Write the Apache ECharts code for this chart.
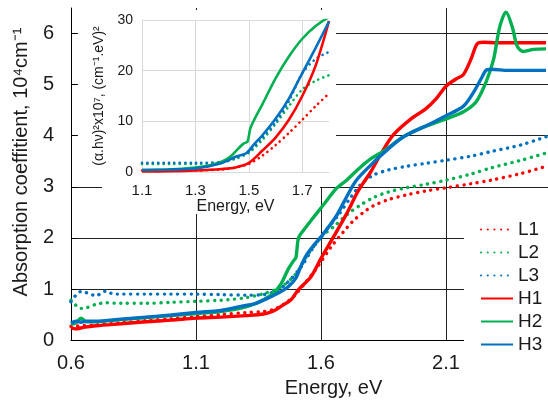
<!DOCTYPE html>
<html>
<head>
<meta charset="utf-8">
<script src="https://cdn.jsdelivr.net/npm/echarts@6/dist/echarts.min.js"></script>
<style>
html, body { margin: 0; padding: 0; background: #fff; }
#chart { width: 548px; height: 403px; }
</style>
</head>
<body>
<div id="chart"></div>
<script>
// main chart: absorption coefficient (10^4 cm^-1) vs energy (eV)
let h1E = [0.6, 0.62, 0.65, 0.7, 0.8, 0.9, 1.0, 1.1, 1.2, 1.3, 1.37, 1.41, 1.44, 1.48, 1.51, 1.56, 1.6, 1.65, 1.7, 1.75, 1.8, 1.84, 1.89, 1.96, 2.02, 2.06, 2.1, 2.14, 2.17, 2.2, 2.225, 2.25, 2.3, 2.4, 2.5];
let h1V = [0.24, 0.22, 0.25, 0.28, 0.32, 0.36, 0.39, 0.43, 0.45, 0.48, 0.51, 0.57, 0.66, 0.79, 0.99, 1.24, 1.6, 2.02, 2.45, 2.93, 3.3, 3.65, 4.02, 4.33, 4.53, 4.72, 4.97, 5.11, 5.2, 5.5, 5.8, 5.83, 5.82, 5.82, 5.82];

let h2E = [0.6, 0.62, 0.64, 0.66, 0.7, 0.8, 0.9, 1.0, 1.1, 1.2, 1.3, 1.37, 1.41, 1.44, 1.47, 1.49, 1.5, 1.51, 1.53, 1.56, 1.61, 1.66, 1.7, 1.75, 1.8, 1.85, 1.93, 2.0, 2.1, 2.17, 2.22, 2.26, 2.29, 2.315, 2.34, 2.365, 2.385, 2.41, 2.45, 2.5];
let h2V = [0.31, 0.34, 0.43, 0.36, 0.36, 0.4, 0.44, 0.48, 0.52, 0.56, 0.65, 0.79, 0.92, 1.1, 1.4, 1.55, 1.62, 2.0, 2.15, 2.34, 2.65, 2.96, 3.12, 3.35, 3.55, 3.7, 3.98, 4.15, 4.33, 4.47, 4.66, 5.05, 5.49, 6.13, 6.42, 6.13, 5.75, 5.65, 5.69, 5.7];

let h3E = [0.6, 0.62, 0.64, 0.66, 0.7, 0.8, 0.9, 1.0, 1.1, 1.2, 1.28, 1.34, 1.4, 1.44, 1.47, 1.5, 1.52, 1.54, 1.57, 1.6, 1.66, 1.7, 1.74, 1.8, 1.85, 1.93, 2.04, 2.1, 2.17, 2.21, 2.24, 2.26, 2.28, 2.35, 2.5];
let h3V = [0.33, 0.37, 0.35, 0.37, 0.37, 0.41, 0.45, 0.49, 0.54, 0.58, 0.66, 0.72, 0.85, 0.95, 1.05, 1.22, 1.45, 1.65, 1.85, 2.02, 2.42, 2.78, 3.12, 3.43, 3.66, 3.98, 4.24, 4.39, 4.58, 4.85, 5.11, 5.28, 5.3, 5.28, 5.28];

let l1E = [0.6, 0.7, 0.8, 0.9, 1.0, 1.1, 1.2, 1.3, 1.37, 1.41, 1.45, 1.49, 1.53, 1.58, 1.64, 1.69, 1.73, 1.77, 1.81, 1.87, 1.94, 2.02, 2.1, 2.2, 2.28, 2.4, 2.5];
let l1V = [0.27, 0.3, 0.34, 0.38, 0.42, 0.46, 0.5, 0.54, 0.56, 0.6, 0.7, 0.85, 1.08, 1.39, 1.82, 2.12, 2.34, 2.5, 2.63, 2.75, 2.84, 2.92, 2.98, 3.06, 3.13, 3.26, 3.4];

let l2E = [0.6, 0.62, 0.64, 0.66, 0.7, 0.74, 0.8, 0.9, 1.0, 1.1, 1.2, 1.25, 1.3, 1.37, 1.44, 1.5, 1.54, 1.6, 1.66, 1.71, 1.76, 1.81, 1.87, 1.94, 2.02, 2.1, 2.2, 2.28, 2.4, 2.5];
let l2V = [0.78, 0.68, 0.62, 0.63, 0.7, 0.73, 0.72, 0.72, 0.74, 0.76, 0.78, 0.8, 0.83, 0.91, 1.04, 1.3, 1.62, 2.01, 2.26, 2.48, 2.65, 2.79, 2.9, 2.98, 3.05, 3.13, 3.25, 3.37, 3.52, 3.66];

let l3E = [0.6, 0.62, 0.64, 0.66, 0.68, 0.7, 0.72, 0.74, 0.77, 0.8, 0.9, 1.0, 1.1, 1.2, 1.3, 1.37, 1.42, 1.46, 1.52, 1.57, 1.62, 1.67, 1.72, 1.76, 1.81, 1.87, 1.94, 2.02, 2.1, 2.2, 2.28, 2.4, 2.5];
let l3V = [0.75, 0.88, 0.95, 0.93, 0.9, 0.86, 0.92, 0.96, 0.9, 0.9, 0.9, 0.9, 0.9, 0.89, 0.88, 0.89, 0.96, 1.1, 1.43, 1.82, 2.15, 2.45, 2.8, 3.05, 3.23, 3.33, 3.4, 3.46, 3.52, 3.6, 3.69, 3.82, 3.98];

// inset: (alpha.h.nu)^2 x 10^7 vs energy
let insetE = [1.1, 1.2, 1.3, 1.4, 1.45, 1.5, 1.55, 1.6, 1.65, 1.7, 1.75, 1.8];
let iH1V = [0.1, 0.15, 0.3, 0.6, 0.9, 1.8, 4.2, 6.8, 10.3, 15, 21, 29.8];
let iH2E = [1.1, 1.2, 1.3, 1.35, 1.4, 1.43, 1.46, 1.48, 1.495, 1.505, 1.52, 1.55, 1.6, 1.65, 1.7, 1.75, 1.8];
let iH2V = [0.4, 0.5, 0.9, 1.3, 2.1, 3.0, 4.6, 5.6, 6.0, 8.5, 10.3, 13.3, 18.5, 22.8, 26.3, 28.8, 30.6];
let iH3E = [1.1, 1.2, 1.3, 1.4, 1.45, 1.49, 1.52, 1.55, 1.6, 1.65, 1.7, 1.75, 1.8];
let iH3V = [0.4, 0.5, 0.7, 1.8, 3.0, 3.7, 5.5, 7.2, 10.5, 14.5, 19.5, 24.5, 29.7];
let iL1V = [0.3, 0.3, 0.3, 0.5, 0.9, 1.6, 3.2, 5.3, 7.7, 10.3, 13, 15.5];
let iL2V = [1.6, 1.6, 1.6, 1.9, 2.6, 3.8, 6.3, 9.5, 13, 16.3, 18, 19.1];
let iL3V = [1.8, 1.8, 1.8, 2.0, 2.8, 4.0, 6.8, 9.8, 14, 19.5, 22.3, 23.7];

let legendNames = ['L1', 'L2', 'L3', 'H1', 'H2', 'H3'];
let mainXTicks = ['0.6', '1.1', '1.6', '2.1'];
let insetXTicks = ['1.1', '1.3', '1.5', '1.7'];

let RED = '#ff0000', GREEN = '#00b050', BLUE = '#0070c0';
let FONT = 'Liberation Sans, Arial, sans-serif';
let TXT = '#1a1a1a';

// energy axes start at 0.6 / 1.1, so the data is shifted to start at 0
function pairs(e, v, shift) {
      return e.map(function (x, i) {
            return [+(x - shift).toFixed(4), v[i]];
      });
}

function line(name, e, v, color, dotted, inset) {
      let w = inset ? 2.6 : 3.4;
      return {
            name: name,
            type: 'line',
            xAxisIndex: inset ? 1 : 0,
            yAxisIndex: inset ? 1 : 0,
            data: pairs(e, v, inset ? 1.1 : 0.6),
            smooth: 0.3,
            showSymbol: false,
            symbol: 'none',
            z: inset ? 12 : 2,
            lineStyle: {
                  color: color,
                  width: w,
                  type: dotted ? [0.1, inset ? 5.3 : 6.6] : 'solid',
                  cap: dotted ? 'round' : 'butt'
            },
            itemStyle: { color: color }
      };
}

let chart = echarts.init(document.getElementById('chart'));

let option = {
      animation: false,
      backgroundColor: '#fff',
      textStyle: { fontFamily: FONT },
      grid: [
            { left: 71, right: 0, top: 8, bottom: 59 },
            { left: 142, right: 219, top: 20, bottom: 231 }
      ],
      xAxis: [{
            type: 'value', gridIndex: 0, min: 0, max: 1.908, interval: 0.5,
            name: 'Energy, eV', nameLocation: 'middle', nameGap: 37,
            nameTextStyle: { fontSize: 20, color: TXT, fontFamily: FONT, padding: [0, 0, 0, 48] },
            axisLine: { lineStyle: { color: '#000', width: 1 } },
            axisTick: { show: false },
            axisLabel: {
                  fontSize: 20, color: TXT, fontFamily: FONT, margin: 13, showMaxLabel: false,
                  formatter: function (v) { return mainXTicks[Math.round(v / 0.5)] || ''; }
            },
            splitLine: { show: true, showMaxLine: false, lineStyle: { color: '#222', width: 1 } }
      }, {
            type: 'value', gridIndex: 1, min: 0, max: 0.7, interval: 0.2, z: 10,
            name: 'Energy, eV', nameLocation: 'middle', nameGap: 21,
            nameTextStyle: { fontSize: 16, color: TXT, fontFamily: FONT },
            axisLine: { lineStyle: { color: '#d9d9d9', width: 1 } },
            axisTick: { show: false },
            axisLabel: {
                  fontSize: 15, color: TXT, fontFamily: FONT, margin: 11, showMaxLabel: false,
                  formatter: function (v) { return insetXTicks[Math.round(v / 0.2)] || ''; }
            },
            splitLine: { show: true, showMaxLine: false, lineStyle: { color: '#d9d9d9', width: 1 } }
      }],
      yAxis: [{
            type: 'value', gridIndex: 0, min: 0, max: 6.5, interval: 1,
            name: 'Absorption coeffitient, 10⁴cm⁻¹', nameLocation: 'middle', nameGap: 40,
            nameTextStyle: { fontSize: 20, color: TXT, fontFamily: FONT, padding: [0, 0, 0, 24] },
            axisLine: { show: true, lineStyle: { color: '#000', width: 1 } },
            axisTick: { show: true, inside: true, length: 6, lineStyle: { color: '#000' } },
            axisLabel: { fontSize: 20, color: TXT, fontFamily: FONT, margin: 17, showMaxLabel: false },
            splitLine: { show: true, showMaxLine: false, lineStyle: { color: '#222', width: 1 } }
      }, {
            type: 'value', gridIndex: 1, min: 0, max: 30, interval: 10, z: 10,
            name: '(α.hν)²x10⁷, (cm⁻¹.eV)²', nameLocation: 'middle', nameGap: 36,
            nameTextStyle: { fontSize: 14, color: TXT, fontFamily: FONT },
            axisLine: { show: true, lineStyle: { color: '#d9d9d9', width: 1 } },
            axisTick: { show: false },
            axisLabel: { fontSize: 14, color: TXT, fontFamily: FONT, margin: 9 },
            splitLine: { show: true, lineStyle: { color: '#d9d9d9', width: 1 } }
      }],
      legend: {
            data: legendNames,
            orient: 'vertical',
            left: 464, top: 216,
            padding: [4, 6, 8, 16],
            backgroundColor: '#fff',
            itemWidth: 32, itemHeight: 12, itemGap: 4,
            itemStyle: { opacity: 0 },
            textStyle: { fontSize: 19, color: TXT, fontFamily: FONT }
      },
      // white panel behind the inset, hides the main grid there
      graphic: [
            { type: 'rect', z: 5, silent: true, shape: { x: 78, y: 10, width: 258, height: 177 }, style: { fill: '#fff' } },
            { type: 'rect', z: 5, silent: true, shape: { x: 102, y: 187, width: 218, height: 13 }, style: { fill: '#fff' } },
            { type: 'rect', z: 5, silent: true, shape: { x: 102, y: 200, width: 198, height: 14 }, style: { fill: '#fff' } }
      ],
      series: [
            line('L1', l1E, l1V, RED, true, false),
            line('L2', l2E, l2V, GREEN, true, false),
            line('L3', l3E, l3V, BLUE, true, false),
            line('H1', h1E, h1V, RED, false, false),
            line('H2', h2E, h2V, GREEN, false, false),
            line('H3', h3E, h3V, BLUE, false, false),
            line('L1', insetE, iL1V, RED, true, true),
            line('L2', insetE, iL2V, GREEN, true, true),
            line('L3', insetE, iL3V, BLUE, true, true),
            line('H1', insetE, iH1V, RED, false, true),
            line('H2', iH2E, iH2V, GREEN, false, true),
            line('H3', iH3E, iH3V, BLUE, false, true)
      ]
};

chart.setOption(option);
</script>
</body>
</html>
